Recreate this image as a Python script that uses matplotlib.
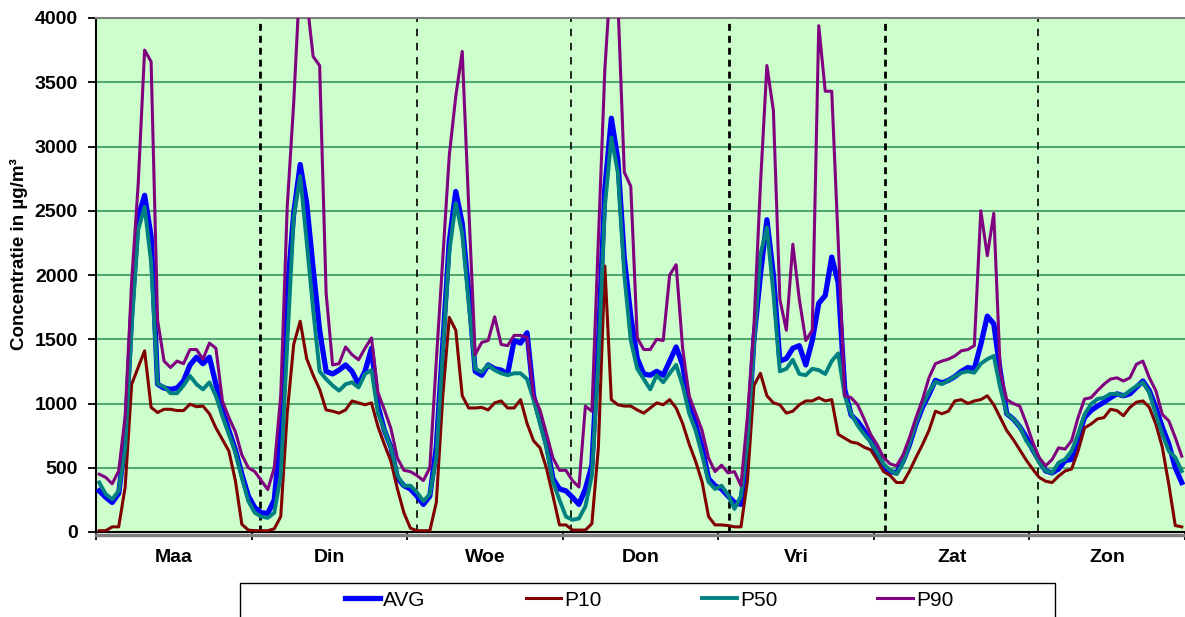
import numpy as np
import matplotlib.pyplot as plt
from matplotlib.patches import Rectangle

plt.rcParams['font.family'] = ['Liberation Sans', 'DejaVu Sans']

# ************************ DONNEES (uurwaarden per dag) **************************

days = ['Maa', 'Din', 'Woe', 'Don', 'Vri', 'Zat', 'Zon']

avg = [320, 270, 230, 300, 700, 1700, 2450, 2620, 2300, 1150, 1120, 1110, 1120, 1175, 1300, 1360, 1310, 1360, 1150, 950, 790, 640, 450, 280,
       190, 150, 145, 250, 790, 1860, 2480, 2860, 2560, 2050, 1570, 1250, 1230, 1260, 1300, 1250, 1150, 1250, 1430, 980, 790, 660, 420, 360,
       335, 280, 215, 280, 660, 1460, 2260, 2650, 2400, 1860, 1250, 1220, 1300, 1270, 1260, 1230, 1490, 1470, 1550, 1060, 870, 680, 415, 335,
       320, 270, 215, 335, 520, 1460, 2670, 3220, 2900, 2130, 1680, 1350, 1230, 1220, 1250, 1220, 1330, 1440, 1300, 1000, 840, 660, 415, 360,
       335, 280, 230, 215, 700, 1500, 2000, 2430, 2000, 1330, 1350, 1430, 1450, 1300, 1490, 1780, 1840, 2140, 1940, 1110, 910, 860, 790, 710,
       610, 500, 470, 460, 550, 680, 840, 970, 1070, 1180, 1160, 1180, 1210, 1250, 1280, 1270, 1460, 1680, 1620, 1250, 920, 880, 820, 740,
       640, 555, 475, 460, 490, 555, 565, 735, 890, 945, 980, 1010, 1045, 1075, 1060, 1075, 1125, 1175, 1100, 970, 815, 685, 500, 385]

p10 = [10, 10, 40, 40, 350, 1150, 1280, 1410, 970, 930, 955, 955, 945, 945, 995, 975, 980, 920, 810, 720, 630, 400, 60, 15,
       10, 10, 10, 25, 120, 925, 1460, 1640, 1350, 1220, 1110, 950, 940, 925, 950, 1020, 1005, 990, 1005, 820, 680, 550, 335, 150,
       30, 10, 10, 10, 230, 1060, 1670, 1570, 1060, 965, 965, 970, 950, 1005, 1020, 965, 965, 1030, 845, 710, 655, 495, 280, 55,
       55, 15, 15, 15, 65, 655, 2070, 1030, 990, 980, 980, 950, 925, 965, 1005, 990, 1030, 965, 845, 685, 550, 390, 120, 55,
       55, 50, 40, 40, 400, 1140, 1235, 1060, 1005, 990, 925, 940, 990, 1020, 1020, 1045, 1020, 1030, 760, 730, 700, 690, 660, 640,
       560, 470, 440, 385, 385, 475, 580, 680, 790, 940, 920, 940, 1020, 1030, 1000, 1020, 1030, 1060, 990, 890, 790, 720, 640, 560,
       490, 425, 395, 385, 435, 475, 490, 630, 810, 840, 880, 890, 955, 945, 905, 970, 1010, 1020, 970, 840, 660, 370, 50, 40]

p50 = [385, 295, 255, 320, 650, 1600, 2350, 2530, 2100, 1150, 1130, 1080, 1080, 1140, 1215, 1150, 1110, 1165, 1060, 900, 760, 620, 420, 240,
       150, 120, 110, 150, 440, 1460, 2450, 2770, 2260, 1730, 1250, 1190, 1140, 1100, 1150, 1165, 1125, 1230, 1260, 925, 790, 655, 440, 360,
       360, 310, 240, 295, 575, 1400, 2180, 2560, 2320, 1780, 1270, 1245, 1300, 1260, 1235, 1220, 1235, 1235, 1190, 1030, 845, 655, 390, 250,
       120, 95, 105, 200, 440, 1330, 2530, 3070, 2800, 2000, 1490, 1270, 1190, 1110, 1220, 1165, 1235, 1300, 1140, 925, 790, 600, 390, 335,
       360, 290, 180, 280, 700, 1460, 2160, 2370, 1860, 1250, 1270, 1340, 1230, 1220, 1270, 1260, 1230, 1330, 1390, 1060, 920, 830, 760, 700,
       620, 530, 480, 450, 540, 690, 850, 990, 1090, 1170, 1150, 1180, 1210, 1240, 1250, 1240, 1310, 1345, 1370, 1120, 920, 880, 820, 710,
       640, 540, 475, 460, 540, 565, 630, 760, 915, 995, 1035, 1045, 1075, 1075, 1060, 1100, 1135, 1165, 1085, 915, 760, 630, 580, 475]

p90 = [450, 425, 375, 475, 900, 1950, 2700, 3750, 3660, 1650, 1330, 1280, 1330, 1310, 1420, 1420, 1345, 1470, 1430, 1020, 890, 780, 600, 500,
       470, 400, 330, 500, 1060, 2530, 3340, 4350, 4150, 3700, 3630, 1860, 1300, 1310, 1440, 1380, 1340, 1430, 1510, 1085, 950, 805, 575, 480,
       470, 440, 400, 500, 1330, 2130, 2930, 3390, 3740, 2530, 1380, 1475, 1490, 1675, 1460, 1450, 1530, 1530, 1515, 1060, 950, 765, 575, 480,
       480, 400, 350, 980, 940, 2260, 3600, 4400, 4150, 2800, 2690, 1510, 1420, 1420, 1500, 1490, 2000, 2080, 1430, 1060, 925, 790, 575, 470,
       520, 460, 470, 360, 900, 1600, 2700, 3630, 3280, 1810, 1570, 2240, 1810, 1490, 1570, 3940, 3430, 3430, 2260, 1060, 1045, 990, 880, 760,
       680, 580, 530, 515, 600, 735, 890, 1030, 1200, 1310, 1330, 1345, 1370, 1410, 1420, 1450, 2500, 2150, 2480, 1250, 1030, 1000, 980, 850,
       700, 580, 515, 565, 655, 645, 710, 890, 1035, 1045, 1100, 1150, 1190, 1200, 1175, 1200, 1305, 1330, 1200, 1100, 915, 865, 735, 590]

# scheidingslijnen tussen de dagen (in uren)
divider_hours = [25.3, 49.5, 73.3, 97.7, 121.7, 145.3]
divider_thick = [True, False, False, True, True, False]

# ******************************** FIGUUR *******************************

x = np.arange(len(avg)) + 0.5

fig = plt.figure(figsize=(11.85, 6.17), dpi=100)
ax = fig.add_axes([96/1185, 85/617, 1089/1185, 514/617])
ax.set_facecolor('#CCFFCC')

series = [('AVG', avg, '#0000FF', 3.8),
          ('P10', p10, '#800000', 2.2),
          ('P50', p50, '#008080', 2.8),
          ('P90', p90, '#800080', 2.2)]
handles = []
for i, (name, vals, col, lw) in enumerate(series):
    h, = ax.plot(x, vals, color=col, lw=lw, label=name, zorder=3 + i,
                 solid_joinstyle='round')
    handles.append(h)

for pos, thick in zip(divider_hours, divider_thick):
    if thick:
        ax.axvline(pos, color='black', lw=2.0, linestyle=(0, (2.5, 1.8)), zorder=2)
    else:
        ax.axvline(pos, color='black', lw=1.2, linestyle=(0, (4.5, 4.0)), zorder=2)

ax.set_xlim(0, 168)
ax.set_ylim(0, 4000)
ax.set_yticks(np.arange(0, 4001, 500))
ax.yaxis.grid(True, color='#2E8B57', lw=1.1)
ax.set_axisbelow(True)

ax.set_xticks(np.arange(0, 169, 24))
ax.set_xticklabels([])
ax.set_xticks(np.arange(12, 168, 24), minor=True)
ax.set_xticklabels(days, minor=True)
ax.tick_params(axis='x', which='major', direction='out', length=6, width=1.3)
ax.tick_params(axis='x', which='minor', length=0, pad=12, labelsize=14)
ax.tick_params(axis='y', direction='out', length=6, width=1.3, pad=7, labelsize=14)
plt.setp(ax.get_xticklabels(minor=True), fontweight='bold')
plt.setp(ax.get_yticklabels(), fontweight='bold')

ax.spines['top'].set_color('#808080')
ax.spines['top'].set_linewidth(1.5)
ax.spines['right'].set_visible(False)
ax.spines['left'].set_linewidth(1.5)
ax.spines['bottom'].set_linewidth(1.5)
ax.plot([0, 1], [-0.006, -0.006], transform=ax.transAxes, color='#808080',
        lw=2.5, clip_on=False, zorder=1)

fig.text(19/1185, 1 - 254/617, 'Concentratie in µg/m³', rotation=90,
         ha='center', va='center', fontsize=13.5, fontweight='bold')

fig.legend(handles=handles, loc='center', bbox_to_anchor=(649/1185, 1 - 600/617),
           ncol=4, frameon=False, fontsize=15, handlelength=1.7,
           handletextpad=0.15, columnspacing=4.8)
fig.add_artist(Rectangle((240/1185, -0.05), 815/1185, 0.05 + 34/617,
                         transform=fig.transFigure, fill=False,
                         edgecolor='black', lw=1))

fig.savefig('out.png', dpi=100)
